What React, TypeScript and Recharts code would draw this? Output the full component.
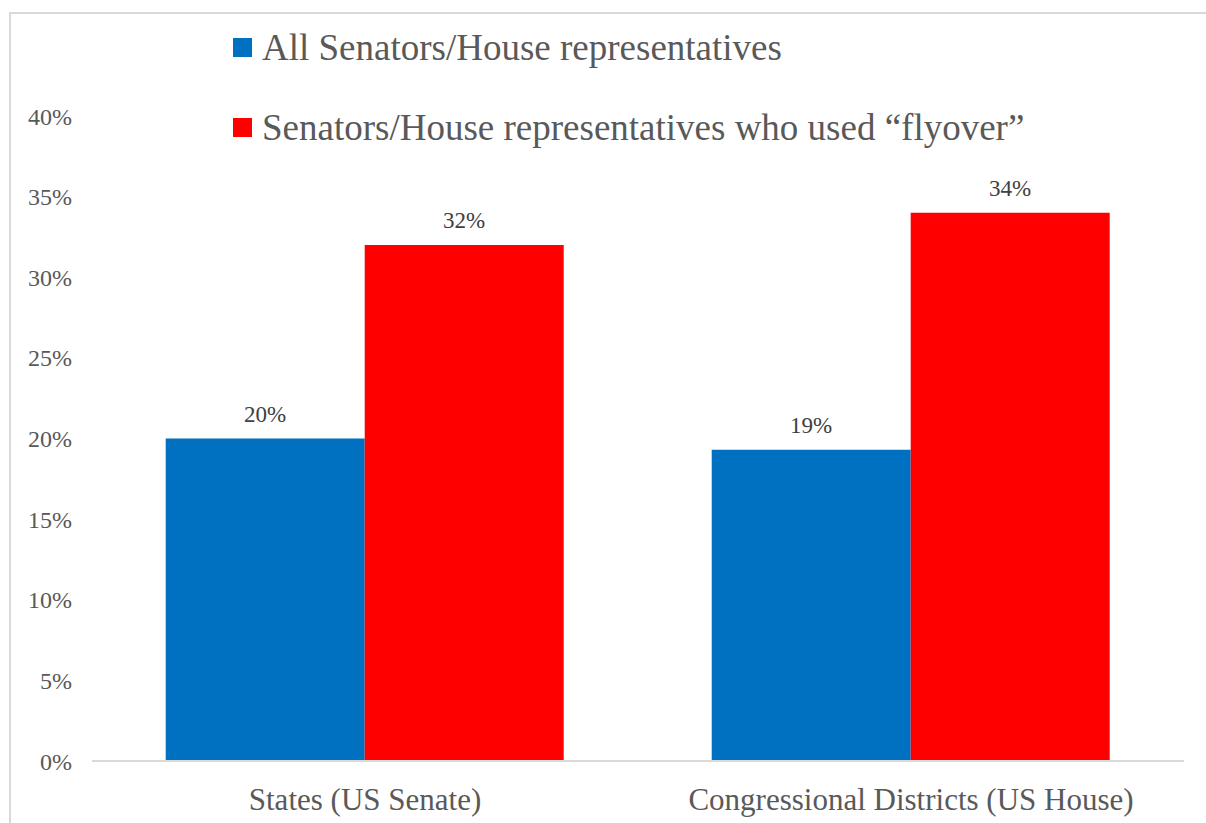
import React from 'react';
import { BarChart, Bar, XAxis, YAxis, Legend, LabelList } from 'recharts';

const categories = ['States (US Senate)', 'Congressional Districts (US House)'];
const allMembers = [20, 19.3];
const flyoverUsers = [32, 34];
const yTicks = [0, 5, 10, 15, 20, 25, 30, 35, 40];

const SERIES = [
  { key: 'all', name: 'All Senators/House representatives', color: '#0070C0' },
  { key: 'flyover', name: 'Senators/House representatives who used \u201cflyover\u201d', color: '#FF0000' },
];

const FONT = '"Liberation Serif", "Times New Roman", serif';

const data = categories.map((c, i) => ({
  category: c,
  all: allMembers[i],
  flyover: flyoverUsers[i],
}));

// legend drawn as two stacked rows, like the original
const renderLegend = () => (
  <div style={{ fontFamily: FONT }}>
    {SERIES.map((s) => (
      <div key={s.key} style={{ display: 'flex', alignItems: 'center', height: 80 }}>
        <span style={{ width: 19, height: 19, background: s.color, display: 'inline-block', marginRight: 10 }} />
        <span style={{ fontSize: 37, color: '#595959', whiteSpace: 'nowrap', lineHeight: 1 }}>{s.name}</span>
      </div>
    ))}
  </div>
);

const App: React.FC = () => {
  return (
    <div style={{ position: 'fixed', top: 0, left: 0, width: 1206, height: 823, overflow: 'hidden', background: '#fff', fontFamily: FONT }}>
      <style>{`.recharts-wrapper text, .recharts-wrapper tspan { font-family: "Liberation Serif", "Times New Roman", serif !important; }`}</style>
      {/* chart frame, cut off on the right and bottom in the original */}
      <div style={{ position: 'absolute', left: 9, top: 12, width: 1400, height: 1000, border: '2px solid #d9d9d9' }} />
      <div style={{ position: 'absolute', left: 0, top: 0 }}>
        <BarChart
          width={1206}
          height={823}
          data={data}
          margin={{ top: 116, right: 22, bottom: 0, left: 0 }}
          barCategoryGap="13.5%"
          barGap={0}
        >
          <XAxis
            dataKey="category"
            height={62}
            axisLine={{ stroke: '#d9d9d9', strokeWidth: 2 }}
            tickLine={false}
            tickMargin={21}
            tick={{ fontSize: 31, fill: '#595959', fontFamily: FONT }}
          />
          <YAxis
            width={92}
            domain={[0, 40]}
            ticks={yTicks}
            axisLine={false}
            tickLine={false}
            tickMargin={14}
            tickFormatter={(v: number) => `${v}%`}
            tick={{ fontSize: 24, fill: '#595959', fontFamily: FONT }}
          />
          <Legend
            layout="vertical"
            align="center"
            verticalAlign="middle"
            content={renderLegend}
            wrapperStyle={{ top: 7, left: 233, width: 'auto' }}
          />
          {SERIES.map((s) => (
            <Bar key={s.key} dataKey={s.key} name={s.name} fill={s.color} isAnimationActive={false}>
              <LabelList
                dataKey={s.key}
                position="top"
                offset={17}
                formatter={(v: any) => `${Math.round(Number(v))}%`}
                style={{ fontSize: 23, fill: '#404040', fontFamily: FONT }}
              />
            </Bar>
          ))}
        </BarChart>
      </div>
    </div>
  );
};

export default App;
